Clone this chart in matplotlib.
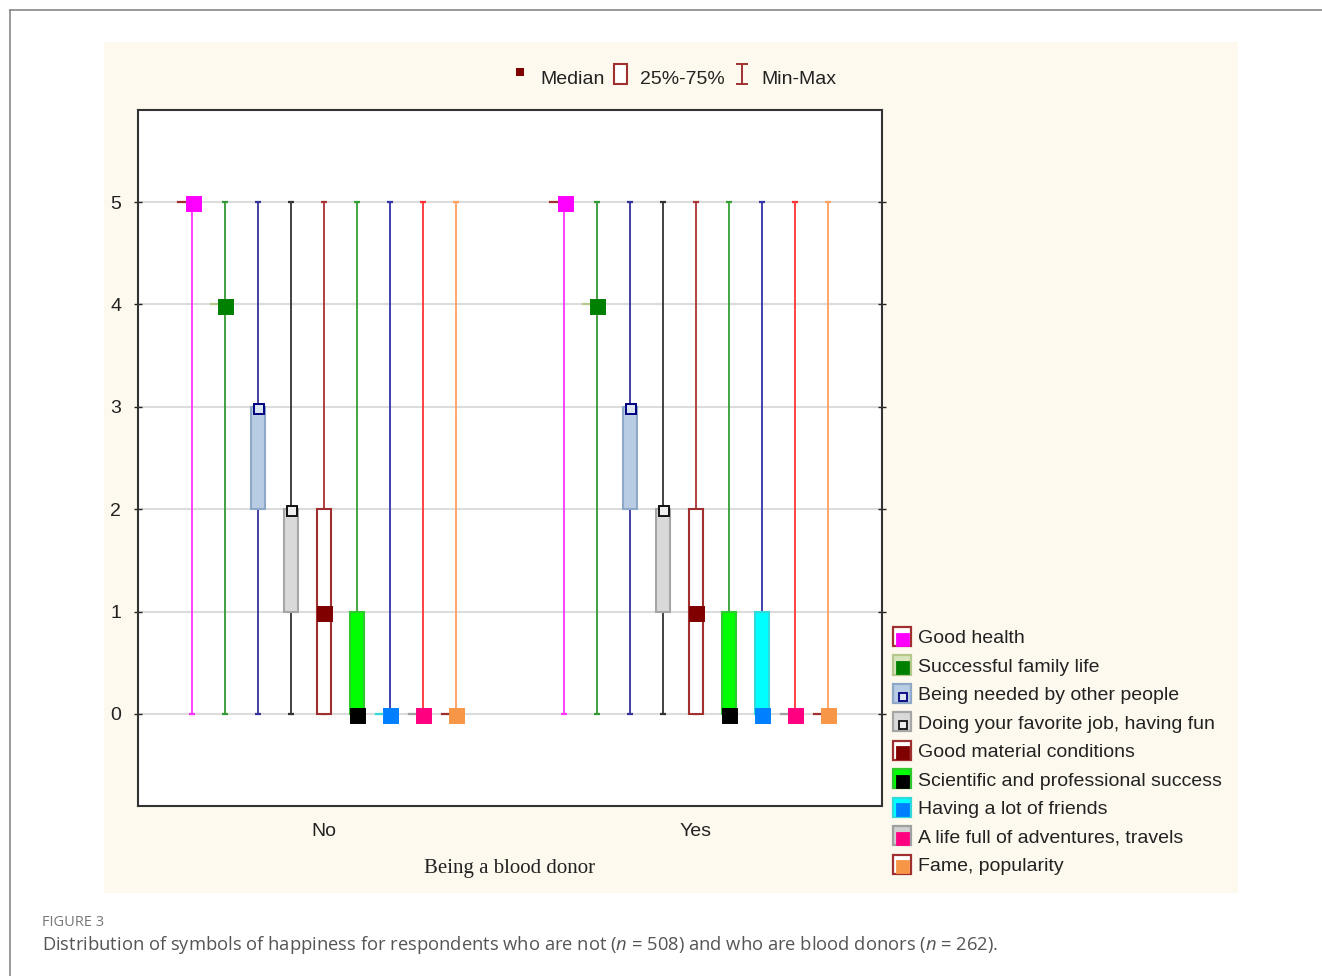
import matplotlib
matplotlib.use("Agg")
import matplotlib.pyplot as plt
from matplotlib.patches import Rectangle
from matplotlib.lines import Line2D
from matplotlib.legend_handler import HandlerBase
import numpy as np

# ---------------- data ----------------
groups = ["No", "Yes"]
categories = [
    "Good health",
    "Successful family life",
    "Being needed by other people",
    "Doing your favorite job, having fun",
    "Good material conditions",
    "Scientific and professional success",
    "Having a lot of friends",
    "A life full of adventures, travels",
    "Fame, popularity",
]
median_no = [5, 4, 3, 2, 1, 0, 0, 0, 0]
q1_no     = [5, 4, 2, 1, 0, 0, 0, 0, 0]
q3_no     = [5, 4, 3, 2, 2, 1, 0, 0, 0]
min_no    = [0, 0, 0, 0, 0, 0, 0, 0, 0]
max_no    = [5, 5, 5, 5, 5, 5, 5, 5, 5]

median_yes = [5, 4, 3, 2, 1, 0, 0, 0, 0]
q1_yes     = [5, 4, 2, 1, 0, 0, 0, 0, 0]
q3_yes     = [5, 4, 3, 2, 2, 1, 1, 0, 0]
min_yes    = [0, 0, 0, 0, 0, 0, 0, 0, 0]
max_yes    = [5, 5, 5, 5, 5, 5, 5, 5, 5]

yticks = [0, 1, 2, 3, 4, 5]

# ---------------- styles ----------------
whisker_colors = ["#ff33ff", "#339933", "#333399", "#333333", "#aa3333",
                  "#33a033", "#3333aa", "#ff3333", "#ffa060"]
box_face = ["white", "#d8e4bc", "#b8cce4", "#d9d9d9", "white",
            "#00ff00", "#00ffff", "#d0d0d0", "white"]
box_edge = ["#a03030", "#b5c98c", "#8ea9c8", "#a6a6a6", "#a03030",
            "#2fc92f", "#30dada", "#a0a0a0", "#a03030"]
med_face = ["#ff00ff", "#008000", "#dce6f1", "#eeeeee", "#800000",
            "#000000", "#0080ff", "#ff0080", "#f79646"]
med_edge = ["#ff00ff", "#008000", "#000080", "#111111", "#800000",
            "#000000", "#0080ff", "#ff0080", "#f79646"]
med_size = [10, 10, 7, 7, 10, 10, 10, 10, 10]

plt.rcParams["font.family"] = ["Liberation Sans", "DejaVu Sans"]

W, H = 1322, 976
fig = plt.figure(figsize=(W / 100, H / 100), dpi=100)
fig.patch.set_facecolor("white")

def fx(px):
    return px / W

def fy(py):
    return 1 - py / H

# outer frame
fig.add_artist(Line2D([fx(10), fx(10)], [fy(10), 0], color="#888888", lw=1.2))
fig.add_artist(Line2D([fx(10), 1], [fy(10), fy(10)], color="#888888", lw=1.2))
# cream panel
fig.add_artist(Rectangle((fx(104), fy(893)), fx(1238) - fx(104), fy(42) - fy(893),
                         facecolor="#fdf9ee", edgecolor="none", zorder=0))

ax = fig.add_axes([fx(138), fy(806), fx(882) - fx(138), fy(110) - fy(806)])
ax.set_facecolor("white")
ax.set_xlim(-0.5, 1.5)
ax.set_ylim(-0.9, 5.9)
ax.set_yticks(yticks)
ax.set_xticks([0, 1])
ax.set_xticklabels(groups, fontsize=14, color="#222222")
ax.tick_params(axis="y", direction="inout", length=6, right=True, labelsize=14,
               pad=9, colors="#222222", width=1)
ax.tick_params(axis="x", length=0, pad=12)
for s in ax.spines.values():
    s.set_color("#333333")
    s.set_linewidth(1.5)
for yv in yticks:
    ax.axhline(yv, color="#dcdcdc", lw=1.5, zorder=0.5)
ax.set_xlabel("Being a blood donor", family=["Liberation Serif"], fontsize=15,
              color="#222222", labelpad=14)

n = len(categories)
step = 0.0887
bw = 0.038
offsets = (np.arange(n) - (n - 1) / 2) * step

data = [
    (median_no, q1_no, q3_no, min_no, max_no),
    (median_yes, q1_yes, q3_yes, min_yes, max_yes),
]

for gi, (med, q1, q3, mn, mx) in enumerate(data):
    for i in range(n):
        x = gi + offsets[i]
        ax.plot([x, x], [mn[i], q1[i]], color=whisker_colors[i], lw=1.3, zorder=2)
        ax.plot([x, x], [q3[i], mx[i]], color=whisker_colors[i], lw=1.3, zorder=2)
        for v in (mn[i], mx[i]):
            ax.plot([x - bw * 0.22, x + bw * 0.22], [v, v], color=whisker_colors[i],
                    lw=1.6, zorder=2, solid_capstyle="butt")
        if q3[i] > q1[i]:
            ax.add_patch(Rectangle((x - bw / 2, q1[i]), bw, q3[i] - q1[i],
                                   facecolor=box_face[i], edgecolor=box_edge[i],
                                   lw=1.5, zorder=3))
        else:
            ax.plot([x - bw, x], [q1[i], q1[i]], color=box_edge[i], lw=1.6, zorder=3)
        ax.plot([x + 0.004], [med[i] - 0.02], marker="s", ms=med_size[i],
                markerfacecolor=med_face[i], markeredgecolor=med_edge[i],
                markeredgewidth=1.4, linestyle="none", zorder=5)


# right legend with custom handler: box patch with median marker in lower part
class BoxKey:
    def __init__(self, i):
        self.i = i


class BoxKeyHandler(HandlerBase):
    def create_artists(self, legend, orig_handle, xdescent, ydescent, width,
                       height, fontsize, trans):
        i = orig_handle.i
        rect = Rectangle((-xdescent, -ydescent), width, height,
                         facecolor=box_face[i], edgecolor=box_edge[i], lw=1.6,
                         transform=trans)
        small = med_size[i] != 10
        mk = Line2D([-xdescent + width * 0.55], [-ydescent + height * 0.34],
                    marker="s", ms=5.5 if small else 8.5, linestyle="none",
                    markerfacecolor=med_face[i], markeredgecolor=med_edge[i],
                    markeredgewidth=1.3, transform=trans)
        return [rect, mk]


keys = [BoxKey(i) for i in range(n)]
leg = fig.legend(keys, categories, loc="upper left",
                 handler_map={BoxKey: BoxKeyHandler()},
                 bbox_to_anchor=(fx(893), fy(627)), frameon=False, fontsize=14,
                 handlelength=0.93, handleheight=1.13, labelspacing=0.43,
                 handletextpad=0.36, borderpad=0, borderaxespad=0)
for t in leg.get_texts():
    t.set_color("#222222")

# top legend (drawn as figure elements)
fig.add_artist(Rectangle((fx(516), fy(76)), 8 / W, 8 / H, facecolor="#800000",
                         edgecolor="none"))
fig.text(fx(540), fy(80), "Median", fontsize=14, va="center", ha="left", color="#222222")
fig.add_artist(Rectangle((fx(614), fy(84)), 13 / W, 20 / H, facecolor="white",
                         edgecolor="#a03030", lw=1.5))
fig.text(fx(640), fy(80), "25%-75%", fontsize=14, va="center", ha="left", color="#222222")
fig.add_artist(Line2D([fx(742), fx(742)], [fy(64), fy(84)], color="#a03030", lw=1.4))
fig.add_artist(Line2D([fx(737), fx(747)], [fy(64), fy(64)], color="#a03030", lw=1.4))
fig.add_artist(Line2D([fx(737), fx(747)], [fy(84), fy(84)], color="#a03030", lw=1.4))
fig.text(fx(761), fy(80), "Min-Max", fontsize=14, va="center", ha="left", color="#222222")

# caption
plt.rcParams["mathtext.fontset"] = "custom"
plt.rcParams["mathtext.it"] = "Open Sans:italic"
plt.rcParams["mathtext.rm"] = "Open Sans"
fig.text(fx(42), fy(922), "FIGURE 3", family=["Open Sans"], fontsize=10.5,
         color="#777777", va="center", ha="left")
fig.text(fx(42), fy(945),
         "Distribution of symbols of happiness for respondents who are not ($n$ = 508) "
         "and who are blood donors ($n$ = 262).",
         family=["Open Sans"], fontsize=13.2, color="#555555", va="center", ha="left")

fig.savefig("out.png", dpi=100, facecolor="white")
